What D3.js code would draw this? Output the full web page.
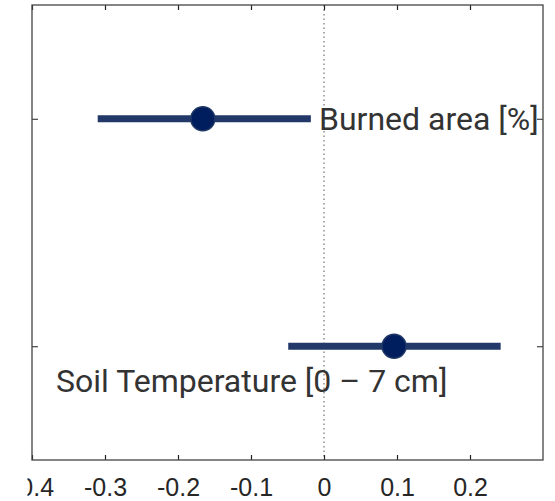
<!DOCTYPE html>
<html><head><meta charset="utf-8">
<script src="https://cdn.jsdelivr.net/npm/d3@7"></script>
<style>body{margin:0;background:#fff}svg{display:block}</style>
</head><body>
<svg id="c" width="555" height="501"></svg>
<script>
const categories = ["Burned area [%]", "Soil Temperature [0 \u2013 7 cm]"];
const estimates = [-0.166, 0.096];
const lower = [-0.310, -0.049];
const upper = [-0.018, 0.242];
const xTicks = [-0.4, -0.3, -0.2, -0.1, 0, 0.1, 0.2];
const xTickLabels = ["-0.4", "-0.3", "-0.2", "-0.1", "0", "0.1", "0.2"];

const svg = d3.select("#c");
const L = 32, R = 543, T = 5, B = 460;
const x = d3.scaleLinear().domain([-0.4, 0.3]).range([L, R]);
const y = d3.scaleLinear().domain([0.5, 2.5]).range([T, B]);

svg.append("defs").append("clipPath").attr("id", "cl")
  .append("rect").attr("x", 27.5).attr("y", 0).attr("width", 555).attr("height", 501);

const root = svg.append("g").attr("clip-path", "url(#cl)");

// zero reference line
root.append("line")
  .attr("x1", x(0)).attr("x2", x(0)).attr("y1", T).attr("y2", B)
  .attr("stroke", "#555").attr("stroke-width", 1).attr("stroke-dasharray", "1.5,3");

// bottom axis
const xb = d3.axisBottom(x).tickValues(xTicks).tickFormat((d, i) => xTickLabels[i]).tickSizeInner(-5).tickSizeOuter(0).tickPadding(18);
const gb = root.append("g").attr("transform", `translate(0,${B})`).call(xb);
gb.select(".domain").remove();
gb.selectAll(".tick line").attr("stroke", "#222").attr("stroke-width", 1.2);
gb.selectAll(".tick text").attr("font-family", "Liberation Sans, Arial, sans-serif").attr("font-size", 25).attr("fill", "#262626");

// top axis ticks
const xt = d3.axisTop(x).tickValues(xTicks).tickFormat("").tickSizeInner(-5).tickSizeOuter(0);
const gt = root.append("g").attr("transform", `translate(0,${T})`).call(xt);
gt.select(".domain").remove();
gt.selectAll(".tick line").attr("stroke", "#222").attr("stroke-width", 1.2);

// y ticks left & right
const yl = d3.axisLeft(y).tickValues([1, 2]).tickFormat("").tickSizeInner(-6).tickSizeOuter(0);
const gl = root.append("g").attr("transform", `translate(${L},0)`).call(yl);
gl.select(".domain").remove();
gl.selectAll(".tick line").attr("stroke", "#222").attr("stroke-width", 1);
const yr = d3.axisRight(y).tickValues([1, 2]).tickFormat("").tickSizeInner(-6).tickSizeOuter(0);
const gr = root.append("g").attr("transform", `translate(${R},0)`).call(yr);
gr.select(".domain").remove();
gr.selectAll(".tick line").attr("stroke", "#222").attr("stroke-width", 1);

// frame
root.append("rect").attr("x", L).attr("y", T).attr("width", R - L).attr("height", B - T)
  .attr("fill", "none").attr("stroke", "#444").attr("stroke-width", 1.3);

const data = categories.map((c, i) => ({c, e: estimates[i], lo: lower[i], hi: upper[i], pos: i + 1}));

// CI lines
root.selectAll("line.ci").data(data).join("line").attr("class", "ci")
  .attr("x1", d => x(d.lo)).attr("x2", d => x(d.hi))
  .attr("y1", d => y(d.pos)).attr("y2", d => y(d.pos))
  .attr("stroke", "#213868").attr("stroke-width", 7);

// points
root.selectAll("circle.pt").data(data).join("circle").attr("class", "pt")
  .attr("cx", d => x(d.e)).attr("cy", d => y(d.pos)).attr("r", 12)
  .attr("fill", "#001d5e").attr("stroke", "#1f3866").attr("stroke-width", 1.5);

// labels
const labelFont = "Roboto, sans-serif";
root.append("text").attr("x", 319).attr("y", y(1) + 11)
  .attr("font-family", labelFont).attr("font-size", 32).attr("fill", "#333")
  .text(categories[0]);
root.append("text").attr("x", 56).attr("y", y(2) + 46)
  .attr("font-family", labelFont).attr("font-size", 32).attr("fill", "#333")
  .text(categories[1]);
</script>
</body></html>
